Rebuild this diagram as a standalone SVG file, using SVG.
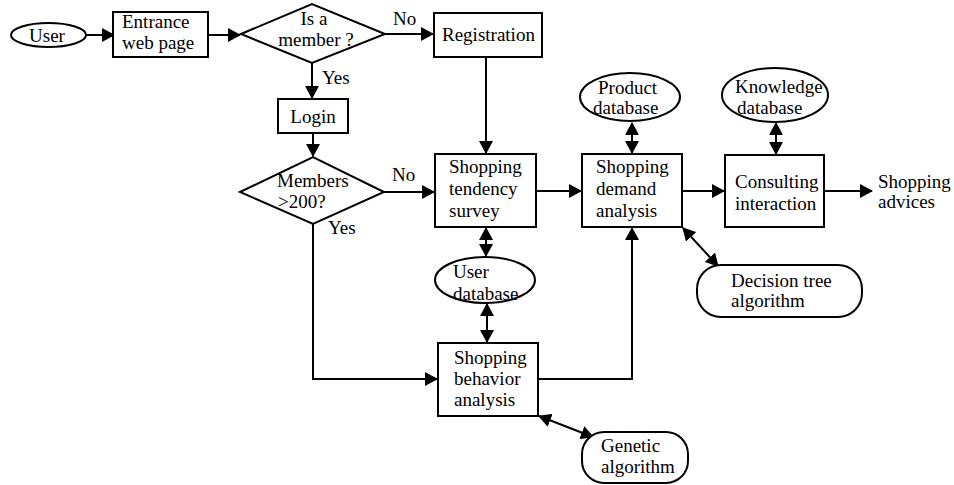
<svg xmlns="http://www.w3.org/2000/svg" width="954" height="485" viewBox="0 0 954 485">
<defs>
<style>
.s{fill:#fff;stroke:#000;stroke-width:2}
.c{fill:none;stroke:#000;stroke-width:2}
text{font-size:19px;fill:#000}
.m{text-anchor:middle}
</style>
<marker id="ah" viewBox="0 0 13 14" refX="12" refY="7" markerWidth="13" markerHeight="14" markerUnits="userSpaceOnUse" orient="auto-start-reverse"><path d="M0,0 L13,7 L0,14 z" fill="#000"/></marker>
</defs>
<rect width="954" height="485" fill="#fff"/>
<g font-family="'Liberation Serif', 'Times New Roman', Tinos, 'DejaVu Serif', serif">
<g id="connectors">
<path class="c" d="M86,35 H114" marker-end="url(#ah)"/>
<path class="c" d="M208,35 H240" marker-end="url(#ah)"/>
<path class="c" d="M385,34 H433" marker-end="url(#ah)"/>
<path class="c" d="M312,63 V98" marker-end="url(#ah)"/>
<path class="c" d="M313,133 V156" marker-end="url(#ah)"/>
<path class="c" d="M486,57 V153" marker-end="url(#ah)"/>
<path class="c" d="M384,192 H434" marker-end="url(#ah)"/>
<path class="c" d="M313,224 V379 H437" marker-end="url(#ah)"/>
<path class="c" d="M536,191 H581" marker-end="url(#ah)"/>
<path class="c" d="M538,379 H632 V228" marker-end="url(#ah)"/>
<path class="c" d="M682,191 H724" marker-end="url(#ah)"/>
<path class="c" d="M824,191 H872" marker-end="url(#ah)"/>
<path class="c" d="M486,228 V256" marker-start="url(#ah)" marker-end="url(#ah)"/>
<path class="c" d="M487,304 V342" marker-start="url(#ah)" marker-end="url(#ah)"/>
<path class="c" d="M632,123 V153" marker-start="url(#ah)" marker-end="url(#ah)"/>
<path class="c" d="M776,123 V154" marker-start="url(#ah)" marker-end="url(#ah)"/>
<path class="c" d="M683,228 L718,266" marker-start="url(#ah)" marker-end="url(#ah)"/>
<path class="c" d="M539,416 L593,437" marker-start="url(#ah)" marker-end="url(#ah)"/>
<text x="393" y="25">No</text>
<text x="322" y="84">Yes</text>
<text x="392" y="181">No</text>
<text x="328" y="234">Yes</text>
</g>
<g id="user"><ellipse class="s" cx="48.5" cy="35" rx="37.5" ry="12"/><text class="m" x="47" y="42">User</text></g>
<g id="entrance"><rect class="s" x="113" y="12" width="95" height="45"/><text x="122" y="28">Entrance</text><text x="122" y="49">web page</text></g>
<g id="is-member"><polygon class="s" points="241,34 312,4 385,34 312,63"/><text class="m" x="314" y="25">Is a</text><text class="m" x="316" y="46">member ?</text></g>
<g id="registration"><rect class="s" x="434" y="13" width="108" height="44"/><text x="442" y="41">Registration</text></g>
<g id="login"><rect class="s" x="278" y="99" width="70" height="34"/><text class="m" x="313" y="123">Login</text></g>
<g id="members200"><polygon class="s" points="240,192 313,157 384,192 313,224"/><text x="277" y="187">Members</text><text x="278" y="208">&gt;200?</text></g>
<g id="tendency"><rect class="s" x="435" y="154" width="101" height="73"/><text x="449" y="173">Shopping</text><text x="449" y="195">tendency</text><text x="449" y="217">survey</text></g>
<g id="user-db"><ellipse class="s" cx="485" cy="280" rx="50" ry="23"/><text x="453" y="278">User</text><text x="453" y="300">database</text></g>
<g id="behavior"><rect class="s" x="438" y="343" width="100" height="73"/><text x="454" y="364">Shopping</text><text x="454" y="385">behavior</text><text x="454" y="406">analysis</text></g>
<g id="genetic"><rect class="s" x="582" y="432" width="106" height="51" rx="22" ry="22"/><text x="601" y="452">Genetic</text><text x="601" y="473">algorithm</text></g>
<g id="demand"><rect class="s" x="582" y="154" width="100" height="73"/><text x="596" y="173">Shopping</text><text x="596" y="195">demand</text><text x="596" y="217">analysis</text></g>
<g id="product-db"><ellipse class="s" cx="630" cy="97" rx="50" ry="24"/><text x="598" y="94">Product</text><text x="593" y="114">database</text></g>
<g id="decision-tree"><rect class="s" x="697" y="265" width="165" height="52" rx="24" ry="24"/><text x="731" y="287">Decision tree</text><text x="731" y="307">algorithm</text></g>
<g id="consulting"><rect class="s" x="725" y="155" width="99" height="72"/><text x="735" y="188">Consulting</text><text x="735" y="210">interaction</text></g>
<g id="knowledge-db"><ellipse class="s" cx="775" cy="95" rx="53" ry="27"/><text x="735" y="93">Knowledge</text><text x="737" y="114">database</text></g>
<g id="advices"><text x="878" y="188">Shopping</text><text x="878" y="208">advices</text></g>
</g>
</svg>
